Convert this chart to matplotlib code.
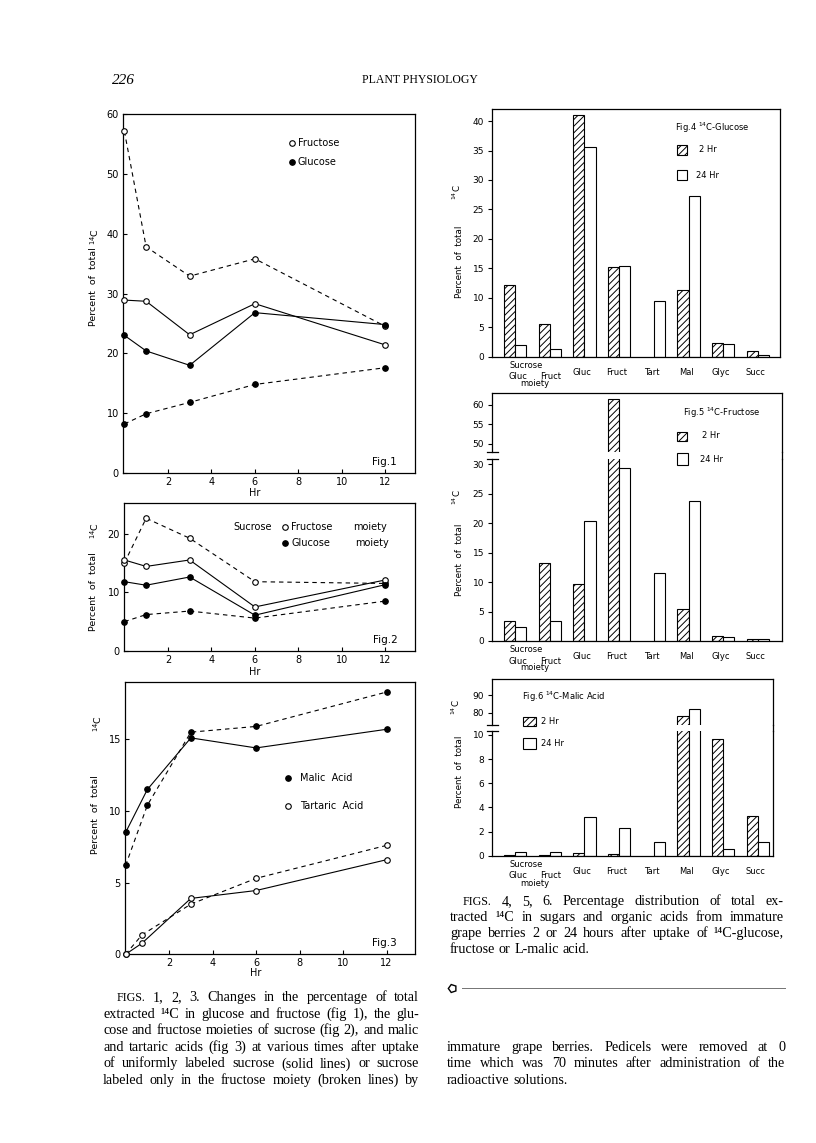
import numpy as np
import matplotlib
matplotlib.use('Agg')
import matplotlib.pyplot as plt
from matplotlib.lines import Line2D
from matplotlib.patches import Rectangle

plt.rcParams['hatch.linewidth'] = 0.7
W, H = 816, 1143
SANS = ['DejaVu Sans']
SERIF = ['Liberation Serif', 'DejaVu Serif']

# ---------------- data ----------------
hours = [0, 1, 3, 6, 12]
fig1_fructose_solid = [28.9, 28.7, 23.1, 28.3, 21.4]
fig1_fructose_broken = [57.1, 37.8, 32.9, 35.8, 24.5]
fig1_glucose_solid = [23.0, 20.4, 18.0, 26.8, 24.8]
fig1_glucose_broken = [8.2, 9.9, 11.8, 14.8, 17.6]

fig2_fructose_solid = [15.5, 14.4, 15.5, 7.5, 12.1]
fig2_fructose_broken = [15.0, 22.6, 19.2, 11.8, 11.5]
fig2_glucose_solid = [11.8, 11.2, 12.6, 6.1, 11.3]
fig2_glucose_broken = [5.0, 6.2, 6.8, 5.6, 8.5]

fig3_malic_solid = [8.5, 11.5, 15.1, 14.4, 15.7]
fig3_malic_broken = [6.2, 10.4, 15.5, 15.9, 18.3]
tart_hours = [0, 0.75, 3, 6, 12]
fig3_tartaric_solid = [0.0, 0.77, 3.9, 4.45, 6.6]
fig3_tartaric_broken = [0.0, 1.35, 3.5, 5.3, 7.6]

categories = ['Gluc', 'Fruct', 'Gluc', 'Fruct', 'Tart', 'Mal', 'Glyc', 'Succ']
fig4_2hr = [12.1, 5.5, 41.1, 15.2, np.nan, 11.3, 2.4, 0.95]
fig4_24hr = [2.0, 1.3, 35.6, 15.4, 9.5, 27.2, 2.1, 0.3]
fig5_2hr = [3.4, 13.3, 9.6, 61.5, np.nan, 5.5, 0.85, 0.3]
fig5_24hr = [2.4, 3.4, 20.4, 29.3, 11.6, 23.7, 0.7, 0.3]
fig6_2hr = [0.05, 0.03, 0.25, 0.12, np.nan, 78.1, 9.65, 3.25]
fig6_24hr = [0.33, 0.28, 3.2, 2.3, 1.16, 82.2, 0.55, 1.15]

caption_left = [
    "FIGS. 1, 2, 3. Changes in the percentage of total",
    "extracted \u00b9\u2074C in glucose and fructose (fig 1), the glu-",
    "cose and fructose moieties of sucrose (fig 2), and malic",
    "and tartaric acids (fig 3) at various times after uptake",
    "of uniformly labeled sucrose (solid lines) or sucrose",
    "labeled only in the fructose moiety (broken lines) by",
]
caption_right = [
    "FIGS. 4, 5, 6. Percentage distribution of total ex-",
    "tracted \u00b9\u2074C in sugars and organic acids from immature",
    "grape berries 2 or 24 hours after uptake of \u00b9\u2074C-glucose,",
    "fructose or L-malic acid.",
]
body_right = [
    "immature grape berries. Pedicels were removed at 0",
    "time which was 70 minutes after administration of the",
    "radioactive solutions.",
]

# ---------------- helpers ----------------
fig = plt.figure(figsize=(W / 100, H / 100), dpi=100)
fig.patch.set_facecolor('white')


def fx(x):
    return x / W


def fy(y):
    return 1 - y / H


def axes_px(l, t, r, b):
    return fig.add_axes([l / W, 1 - b / H, (r - l) / W, (b - t) / H])


def ftext(x, y, s, size=7, ha='left', va='center', family=SANS, **kw):
    return fig.text(fx(x), fy(y), s, fontsize=size, ha=ha, va=va,
                    family=family, **kw)


def fmarker(x, y, filled):
    fig.add_artist(Line2D([fx(x)], [fy(y)], marker='o', ms=4,
                          mfc='k' if filled else 'white', mec='k', mew=0.8,
                          transform=fig.transFigure))


def fline(x0, y0, x1, y1, lw=0.9, color='k'):
    fig.add_artist(Line2D([fx(x0), fx(x1)], [fy(y0), fy(y1)], lw=lw,
                          color=color, transform=fig.transFigure))


DASH = (0, (4, 3.5))


def line_panel(box, x0px, ylim, yticks, series, hr_y):
    l, t, r, b = box
    ax = axes_px(l, t, r, b)
    unit = 21.75
    ax.set_xlim((l - x0px) / unit, (r - x0px) / unit)
    ax.set_ylim(*ylim)
    for xs, ys, filled, dashed in series:
        ax.plot(xs, ys, color='k', lw=0.8, ls=DASH if dashed else '-',
                marker='o', ms=4, mfc='k' if filled else 'white', mec='k',
                mew=0.8, clip_on=False, zorder=3)
    ax.set_xticks([2, 4, 6, 8, 10, 12])
    ax.set_yticks(yticks)
    ax.tick_params(direction='in', length=3, width=0.8, labelsize=7, pad=3)
    for s in ax.spines.values():
        s.set_linewidth(0.9)
    for lab in ax.get_xticklabels() + ax.get_yticklabels():
        lab.set_family(SANS)
    ftext(x0px + 6 * unit, hr_y, 'Hr', size=7, ha='center')
    return ax


# ---------------- Fig 1 ----------------
line_panel((123, 114, 415, 473), 124.4, (0, 60), [0, 10, 20, 30, 40, 50, 60],
           [(hours, fig1_fructose_broken, False, True),
            (hours, fig1_glucose_broken, True, True),
            (hours, fig1_fructose_solid, False, False),
            (hours, fig1_glucose_solid, True, False)], 493)
fmarker(291.7, 143.3, False)
ftext(298, 143.3, 'Fructose')
fmarker(291.7, 162.3, True)
ftext(298, 162.3, 'Glucose')
ftext(372, 462, 'Fig.1', size=7.5)
ftext(93, 287, 'Percent  of  total', size=6.8, ha='center', rotation=90)
ftext(95, 237, '$^{14}$C', size=6.8, ha='center', rotation=90)

# ---------------- Fig 2 ----------------
line_panel((124, 503, 415, 651), 124.4, (0, 25.2), [0, 10, 20],
           [(hours, fig2_fructose_broken, False, True),
            (hours, fig2_glucose_broken, True, True),
            (hours, fig2_fructose_solid, False, False),
            (hours, fig2_glucose_solid, True, False)], 672)
ftext(233, 527, 'Sucrose')
fmarker(285, 527, False)
ftext(291, 527, 'Fructose')
ftext(353, 527, 'moiety')
fmarker(285, 543, True)
ftext(291, 543, 'Glucose')
ftext(355, 543, 'moiety')
ftext(373, 640, 'Fig.2', size=7.5)
ftext(93, 592, 'Percent  of  total', size=6.8, ha='center', rotation=90)
ftext(95, 531, '$^{14}$C', size=6.8, ha='center', rotation=90)

# ---------------- Fig 3 ----------------
line_panel((125, 682, 415, 954.3), 125.6, (0, 19.0), [0, 5, 10, 15],
           [(tart_hours, fig3_tartaric_broken, False, True),
            (hours, fig3_malic_broken, True, True),
            (tart_hours, fig3_tartaric_solid, False, False),
            (hours, fig3_malic_solid, True, False)], 973)
fmarker(288, 777.7, True)
ftext(300, 777.7, 'Malic  Acid')
fmarker(288, 806, False)
ftext(300, 806, 'Tartaric  Acid')
ftext(372, 943, 'Fig.3', size=7.5)
ftext(96, 815, 'Percent  of  total', size=6.8, ha='center', rotation=90)
ftext(98, 724, '$^{14}$C', size=6.8, ha='center', rotation=90)

# ---------------- bar charts ----------------
BW = 0.32
X0PX, SP = 515.0, 34.7


def bar_ax(box, ylim, yticks, show_top=True, show_bottom=True):
    l, t, r, b = box
    ax = axes_px(l, t, r, b)
    ax.set_xlim((l - X0PX) / SP, (r - X0PX) / SP)
    ax.set_ylim(*ylim)
    ax.set_yticks(yticks)
    ax.tick_params(axis='y', direction='out', length=3, width=0.8,
                   labelsize=6.5, pad=2.5)
    ax.tick_params(axis='x', bottom=False, labelbottom=False)
    for lab in ax.get_yticklabels():
        lab.set_family(SANS)
    for s in ax.spines.values():
        s.set_linewidth(0.9)
    ax.spines['top'].set_visible(show_top)
    ax.spines['bottom'].set_visible(show_bottom)
    return ax


def draw_bars(ax, h2, h24):
    x = np.arange(len(categories))
    h2 = np.asarray(h2, float)
    h24 = np.asarray(h24, float)
    m = np.isfinite(h2)
    ax.bar(x[m] - BW / 2, h2[m], BW, facecolor='white', edgecolor='k',
           hatch='/////', lw=0.8)
    ax.bar(x + BW / 2, h24, BW, facecolor='white', edgecolor='k', lw=0.8)


def cat_labels(ax, offs=(8.5, 15.5, 20, 27)):
    tr = ax.get_xaxis_transform()
    suc, main, sub, moi = offs

    def lab(s, xv, off):
        ax.annotate(s, (xv, 0), xycoords=tr, xytext=(0, -off),
                    textcoords='offset pixels', ha='center', va='center',
                    fontsize=6, family=SANS, annotation_clip=False)
    for i in range(2, len(categories)):
        lab(categories[i], i - 0.07, main)
    lab('Sucrose', 0.32, suc)
    lab(categories[0], 0.08, sub)
    lab(categories[1], 1.03, sub)
    lab('moiety', 0.58, moi)


def bar_legend(title, tpos, hbox, t2, obox, t24):
    ftext(tpos[0], tpos[1], title, size=6)
    for (x0, y0, x1, y1), hatch in ((hbox, '/////'), (obox, None)):
        fig.add_artist(Rectangle((fx(x0), fy(y1)), (x1 - x0) / W,
                                 (y1 - y0) / H, transform=fig.transFigure,
                                 facecolor='white', edgecolor='k', lw=0.8,
                                 hatch=hatch))
    ftext(t2[0], t2[1], '2 Hr', size=6)
    ftext(t24[0], t24[1], '24 Hr', size=6)


def break_marks(xs, ys):
    for y in ys:
        fline(xs - 4.5, y, xs + 6, y, lw=0.9)


# Fig 4
ax4 = bar_ax((491.7, 109.3, 780, 356.7), (0, 42.0), list(range(0, 41, 5)))
draw_bars(ax4, fig4_2hr, fig4_24hr)
cat_labels(ax4, (9, 15.5, 20, 27))
bar_legend('Fig.4 $^{14}$C-Glucose', (675, 128), (677, 145, 687, 155),
           (699, 150), (677, 170, 687, 180), (696, 175))
ftext(460, 262, 'Percent  of  total', size=6.3, ha='center', rotation=90)
ftext(457, 192, '$^{14}$C', size=6.3, ha='center', rotation=90)

# Fig 5 (broken axis)
ax5u = bar_ax((491.7, 393.3, 781.7, 451.7), (48.0, 63.0), [50, 55, 60],
              show_bottom=False)
ax5l = bar_ax((491.7, 459, 781.7, 641), (0, 30.85), list(range(0, 31, 5)),
              show_top=False)
draw_bars(ax5u, fig5_2hr, fig5_24hr)
draw_bars(ax5l, fig5_2hr, fig5_24hr)
cat_labels(ax5l, (8.5, 15.7, 20, 27))
fline(781.7, 451.7, 781.7, 459)
break_marks(491.7, (451.7, 459))
bar_legend('Fig.5 $^{14}$C-Fructose', (683, 413), (677, 432, 687, 441),
           (702, 436), (677, 453, 688, 465), (700, 459))
ftext(460, 560, 'Percent  of  total', size=6.3, ha='center', rotation=90)
ftext(457, 497, '$^{14}$C', size=6.3, ha='center', rotation=90)

# Fig 6 (broken axis)
ax6u = bar_ax((491.7, 679.3, 773.3, 725), (73.0, 98.9), [80, 90],
              show_bottom=False)
ax6l = bar_ax((491.7, 731, 773.3, 855.7), (0, 10.33), list(range(0, 11, 2)),
              show_top=False)
draw_bars(ax6u, fig6_2hr, fig6_24hr)
draw_bars(ax6l, fig6_2hr, fig6_24hr)
cat_labels(ax6l, (8.5, 15.6, 20, 28))
fline(773.3, 725, 773.3, 731)
break_marks(491.7, (725, 731))
bar_legend('Fig.6 $^{14}$C-Malic Acid', (522, 697), (523, 717, 536, 726),
           (541, 721), (523, 738, 536, 749), (541, 744))
ftext(459, 772, 'Percent  of  total', size=6.3, ha='center', rotation=90)
ftext(456, 707, '$^{14}$C', size=6.3, ha='center', rotation=90)

# ---------------- page text ----------------
ftext(112, 80, '226', size=11, family=SERIF, style='italic')
ftext(420, 80, 'PLANT PHYSIOLOGY', size=8.5, ha='center', family=SERIF)

renderer = fig.canvas.get_renderer()
BASE = 10.0
SC_FACTOR = 0.85


def word_size(w, size):
    return size * SC_FACTOR if w.startswith('FIGS') else size


def natural_width(line, x_start, x_end, size):
    words = line.split(' ')
    total = 0.0
    for w in words:
        t = fig.text(0, 0, w, fontsize=word_size(w, size), family=SERIF)
        total += t.get_window_extent(renderer).width
        t.remove()
    total += size * 100 / 72 * 0.25 * (len(words) - 1)
    return total / (x_end - x_start)


# choose one font size so that every justified line fits its measure
paragraphs = [
    (caption_left, 117, 103, 419, True),
    (caption_right, 463, 450, 784, False),
    (body_right, 447, 447, 785, False),
]
ratios = []
for lines, xf, x0, x1, last_full in paragraphs:
    for k, line in enumerate(lines):
        if not last_full and k == len(lines) - 1:
            continue
        ratios.append(natural_width(line, xf if k == 0 else x0, x1, BASE))
TEXT_SIZE = min(BASE / max(ratios) * 0.99, 10.5)


def justify(lines, x_first, x0, x1, y0, dy, size, last_full=True):
    for k, line in enumerate(lines):
        words = line.split(' ')
        y = y0 + k * dy
        xs = x_first if k == 0 else x0
        objs = [fig.text(0, fy(y), w, fontsize=word_size(w, size),
                         family=SERIF, va='baseline', ha='left')
                for w in words]
        widths = [o.get_window_extent(renderer).width for o in objs]
        full = last_full or k < len(lines) - 1
        if full and len(words) > 1:
            gap = (x1 - xs - sum(widths)) / (len(words) - 1)
        else:
            gap = size * 100 / 72 * 0.25
        x = xs
        for o, wd in zip(objs, widths):
            o.set_x(fx(x))
            x += wd + gap


justify(caption_left, 117, 103, 419, 1001, 16.6, TEXT_SIZE)
justify(caption_right, 463, 450, 784, 905, 16.0, TEXT_SIZE, last_full=False)
justify(body_right, 447, 447, 785, 1050.8, 16.6, TEXT_SIZE, last_full=False)

# divider
fig.add_artist(Line2D([fx(452)], [fy(988)], marker=(5, 0, 90), ms=6,
                      mfc='white', mec='k', mew=1.0,
                      transform=fig.transFigure))
fline(462, 988, 785, 988, lw=0.7, color='0.45')

fig.savefig('out.png', dpi=100, facecolor='white')
